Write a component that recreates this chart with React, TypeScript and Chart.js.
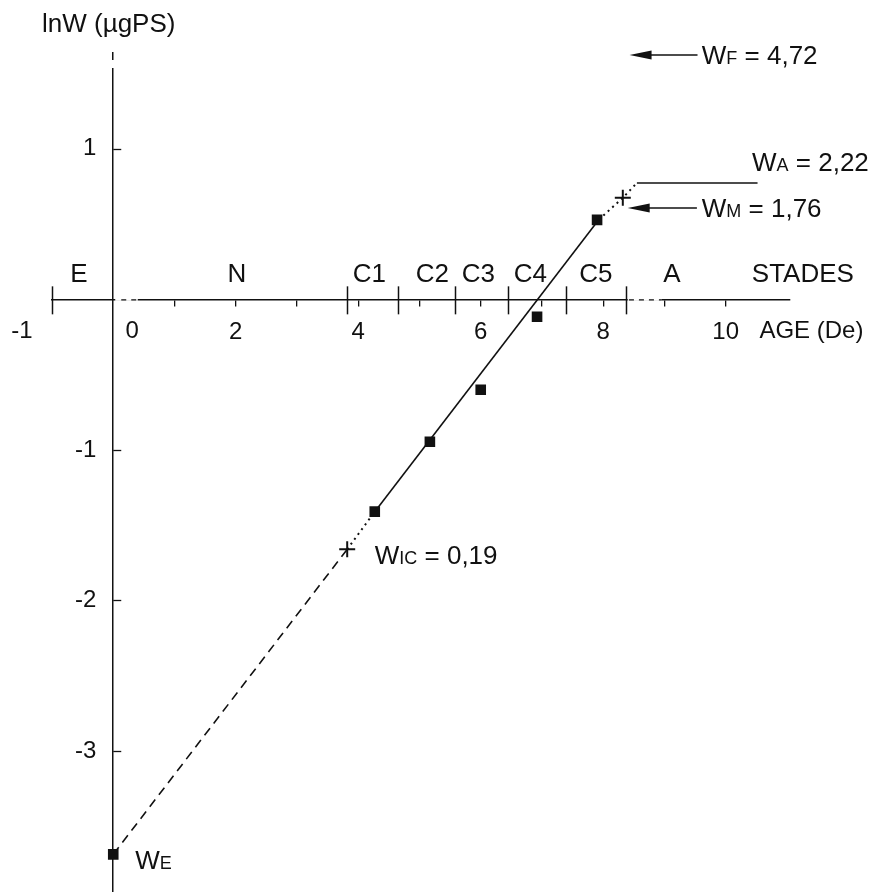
import { useEffect, useRef } from 'react';
import { Chart, registerables } from 'chart.js';

Chart.register(...registerables);

const FONT = '"Liberation Sans", Arial, Helvetica, sans-serif';
const INK = '#111111';

// ---- data (age in days, lnW in µg dry weight) ----
const eggAge = [0];
const eggLnW = [-3.686];
const copepoditeAge = [4.27, 5.17, 6.0, 6.92, 7.9];
const copepoditeLnW = [-1.41, -0.946, -0.6, -0.116, 0.528];
const markAge = [3.82, 8.32]; // W_IC, W_M
const markLnW = [-1.66, 0.674];

const extrapAge = [0, 3.82];
const extrapLnW = [-3.686, -1.66];
const lowGapAge = [3.82, 4.27];
const lowGapLnW = [-1.66, -1.41];
const fitAge = [4.27, 7.93];
const fitLnW = [-1.41, 0.53];
const upperAge = [7.93, 8.32, 8.55];
const upperLnW = [0.53, 0.674, 0.773];
const adultAge = [8.55, 10.52];
const adultLnW = [0.773, 0.773];

const xTickValues = [1, 2, 3, 4, 5, 6, 7, 8, 9, 10];
const xTickLabels = [2, 4, 6, 8, 10];
const yTickValues = [1, -1, -2, -3];

const stageNames = ['E', 'N', 'C1', 'C2', 'C3', 'C4', 'C5', 'A'];
const stageLabelAge = [-0.56, 2.02, 4.18, 5.21, 5.96, 6.81, 7.88, 9.12];
const stageBounds = [-1, 3.82, 4.65, 5.58, 6.45, 7.39, 8.37];

// arrows: head age, tail age, lnW level
const arrowHeadAge = [8.43, 8.4];
const arrowTailAge = [9.54, 9.53];
const arrowLnW = [1.622, 0.607];

// weight labels
const wSub = ['F', 'A', 'M', 'IC', 'E'];
const wRest = [' = 4,72', ' = 2,22', ' = 1,76', ' = 0,19', ''];
const wAge = [9.61, 10.43, 9.61, 4.27, 0.36];
const wLnW = [1.622, 0.912, 0.607, -1.695, -3.72];

const pts = (xs: number[], ys: number[]) => xs.map((x, i) => ({ x, y: ys[i] }));

const annotations = {
  id: 'annotations',
  beforeDraw(chart: any) {
    const { ctx, width, height } = chart;
    ctx.save();
    ctx.fillStyle = '#ffffff';
    ctx.fillRect(0, 0, width, height);
    ctx.restore();
  },
  afterDraw(chart: any) {
    const { ctx } = chart;
    const xs = chart.scales.x;
    const ys = chart.scales.y;
    const y0 = ys.getPixelForValue(0);
    const x0 = xs.getPixelForValue(0);
    ctx.save();
    ctx.strokeStyle = INK;
    ctx.fillStyle = INK;

    // scan-like breaks in the axes
    ctx.fillStyle = '#ffffff';
    ctx.fillRect(x0 + 2, y0 - 1.5, xs.getPixelForValue(0.4) - x0 - 2, 3);
    ctx.fillRect(xs.getPixelForValue(8.4), y0 - 1.5, xs.getPixelForValue(8.95) - xs.getPixelForValue(8.4), 3);
    ctx.fillRect(x0 - 2, ys.top + 7, 4, 8);
    ctx.fillStyle = INK;
    ctx.lineWidth = 1.3;
    ctx.setLineDash([5, 5]);
    ctx.beginPath();
    ctx.moveTo(x0 + 8, y0 + 0.5);
    ctx.lineTo(xs.getPixelForValue(0.4), y0 + 0.5);
    ctx.moveTo(xs.getPixelForValue(8.42), y0 + 0.5);
    ctx.lineTo(xs.getPixelForValue(8.95), y0 + 0.5);
    ctx.stroke();
    ctx.setLineDash([]);

    // inward y ticks
    ctx.lineWidth = 1.3;
    yTickValues.forEach((v) => {
      const py = Math.round(ys.getPixelForValue(v)) + 0.5;
      ctx.beginPath();
      ctx.moveTo(x0, py);
      ctx.lineTo(x0 + 8, py);
      ctx.stroke();
    });

    // stage boundaries
    ctx.lineWidth = 1.5;
    stageBounds.forEach((a) => {
      const px = Math.round(xs.getPixelForValue(a)) + 0.5;
      ctx.beginPath();
      ctx.moveTo(px, y0 - 13);
      ctx.lineTo(px, y0 + 15);
      ctx.stroke();
    });

    // arrows
    arrowHeadAge.forEach((h, i) => {
      const hx = xs.getPixelForValue(h);
      const tx = xs.getPixelForValue(arrowTailAge[i]);
      const py = ys.getPixelForValue(arrowLnW[i]);
      ctx.lineWidth = 1.5;
      ctx.beginPath();
      ctx.moveTo(hx + 18, py);
      ctx.lineTo(tx, py);
      ctx.stroke();
      ctx.beginPath();
      ctx.moveTo(hx, py);
      ctx.lineTo(hx + 22, py - 4.5);
      ctx.lineTo(hx + 22, py + 4.5);
      ctx.closePath();
      ctx.fill();
    });

    const big = 26;
    const small = 18;
    ctx.textBaseline = 'alphabetic';
    ctx.textAlign = 'left';
    wSub.forEach((s, i) => {
      let x = xs.getPixelForValue(wAge[i]);
      const base = ys.getPixelForValue(wLnW[i]) + big * 0.36;
      ctx.font = `${big}px ${FONT}`;
      ctx.fillText('W', x, base);
      x += ctx.measureText('W').width;
      ctx.font = `${small}px ${FONT}`;
      ctx.fillText(s, x, base);
      x += ctx.measureText(s).width;
      ctx.font = `${big}px ${FONT}`;
      ctx.fillText(wRest[i], x, base);
    });

    // stage labels
    ctx.font = `${big}px ${FONT}`;
    ctx.textAlign = 'center';
    ctx.textBaseline = 'middle';
    stageNames.forEach((n, i) => {
      ctx.fillText(n, xs.getPixelForValue(stageLabelAge[i]), y0 - 25);
    });
    ctx.fillText('STADES', xs.getPixelForValue(11.26), y0 - 25);

    // extra axis labels
    const ly = y0 + 32;
    ctx.font = `24px ${FONT}`;
    ctx.fillText('-1', xs.getPixelForValue(-1.49), ly);
    ctx.fillText('0', xs.getPixelForValue(0.31), ly);
    ctx.textAlign = 'left';
    ctx.fillText('AGE (De)', xs.getPixelForValue(10.55), ly);

    // y-axis title
    ctx.font = `26px ${FONT}`;
    ctx.fillText('lnW (\u00b5gPS)', 42, 25);
    ctx.restore();
  },
};

export default function App() {
  const ref = useRef<HTMLCanvasElement | null>(null);
  useEffect(() => {
    if (!ref.current) return;
    const dotted = { borderDash: [2, 4], borderWidth: 2, pointRadius: 0 };
    const chart = new Chart(ref.current, {
      type: 'scatter',
      data: {
        datasets: [
          { data: pts(extrapAge, extrapLnW), showLine: true, borderColor: INK, borderWidth: 1.6, borderDash: [9, 6], pointRadius: 0 },
          { data: pts(lowGapAge, lowGapLnW), showLine: true, borderColor: INK, ...dotted },
          { data: pts(fitAge, fitLnW), showLine: true, borderColor: INK, borderWidth: 1.6, pointRadius: 0 },
          { data: pts(upperAge, upperLnW), showLine: true, borderColor: INK, ...dotted },
          { data: pts(adultAge, adultLnW), showLine: true, borderColor: INK, borderWidth: 1.4, pointRadius: 0 },
          { data: pts(copepoditeAge, copepoditeLnW), pointStyle: 'rect', pointRadius: 7.5, backgroundColor: INK, borderColor: INK, borderWidth: 0 },
          { data: pts(eggAge, eggLnW), pointStyle: 'rect', pointRadius: 7.5, backgroundColor: INK, borderColor: INK, borderWidth: 0 },
          { data: pts(markAge, markLnW), pointStyle: 'cross', pointRadius: 8, borderColor: INK, borderWidth: 2 },
        ],
      },
      options: {
        animation: false,
        responsive: false,
        maintainAspectRatio: false,
        layout: { autoPadding: false, padding: { left: 52, right: 90, top: 53, bottom: 0 } },
        plugins: { legend: { display: false }, tooltip: { enabled: false }, title: { display: false } },
        scales: {
          x: {
            type: 'linear',
            min: -1,
            max: 11.05,
            position: { y: 0 },
            afterBuildTicks: (s: any) => { s.ticks = xTickValues.map((v) => ({ value: v })); },
            grid: { display: true, drawOnChartArea: false, drawTicks: true, tickLength: 6, color: INK, lineWidth: 1.3 },
            border: { display: true, color: INK, width: 1.5 },
            ticks: {
              autoSkip: false, maxRotation: 0, padding: 13, color: INK,
              font: { size: 24, family: FONT },
              callback: (v: any) => (xTickLabels.includes(Number(v)) ? String(v) : ''),
            },
          },
          y: {
            type: 'linear',
            min: -3.932,
            max: 1.636,
            position: { x: 0 },
            afterBuildTicks: (s: any) => { s.ticks = yTickValues.map((v) => ({ value: v })); },
            grid: { display: true, drawOnChartArea: false, drawTicks: true, tickLength: 17, color: INK, tickColor: 'rgba(0,0,0,0)', lineWidth: 1.3 },
            border: { display: true, color: INK, width: 1.5 },
            ticks: {
              padding: 0, color: INK, font: { size: 24, family: FONT, lineHeight: 0.05 },
              callback: (v: any) => String(v) + '\u2002\u2009',
            },
          },
        },
      },
      plugins: [annotations],
    } as any);
    return () => chart.destroy();
  }, []);
  return (
    <div style={{ position: 'absolute', left: 0, top: 0, width: 880, height: 892, background: '#fff' }}>
      <canvas ref={ref} width={880} height={892} style={{ width: 880, height: 892, display: 'block' }} />
    </div>
  );
}
